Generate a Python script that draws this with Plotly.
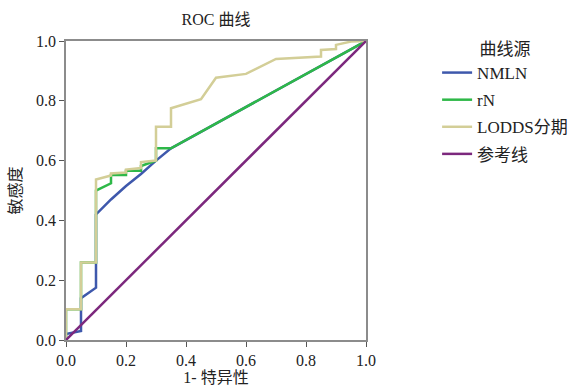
import plotly.graph_objects as go

# NMLN curve
nmln_x = [0, 0, 0.05, 0.05, 0.1, 0.1, 0.15, 0.2, 0.25, 0.3, 0.35, 1]
nmln_y = [0, 0.02, 0.03, 0.14, 0.175, 0.42, 0.47, 0.515, 0.555, 0.6, 0.641, 1]

# rN curve
rn_x = [0, 0, 0.05, 0.05, 0.1, 0.1, 0.15, 0.15, 0.2, 0.2, 0.25, 0.25, 0.3, 0.3, 0.35, 1]
rn_y = [0, 0.103, 0.103, 0.259, 0.259, 0.5, 0.524, 0.552, 0.552, 0.566, 0.566, 0.582, 0.6, 0.641, 0.641, 1]

# LODDS curve
lodds_x = [0, 0, 0.05, 0.05, 0.1, 0.1, 0.15, 0.15, 0.2, 0.2, 0.25, 0.25, 0.3, 0.3, 0.35, 0.35,
           0.45, 0.5, 0.6, 0.7, 0.85, 0.85, 0.9, 0.9, 0.95, 1]
lodds_y = [0, 0.103, 0.103, 0.259, 0.259, 0.537, 0.55, 0.557, 0.56, 0.57, 0.575, 0.595, 0.6, 0.713, 0.713, 0.775,
           0.805, 0.877, 0.89, 0.94, 0.948, 0.97, 0.973, 0.987, 0.998, 1]

# reference line
ref_x = [0, 1]
ref_y = [0, 1]

tick_vals = [0.0, 0.2, 0.4, 0.6, 0.8, 1.0]
tick_text = ["0.0", "0.2", "0.4", "0.6", "0.8", "1.0"]

FONT = "Liberation Serif, Noto Sans CJK SC, serif"

fig = go.Figure()
series = [
    ("NMLN", nmln_x, nmln_y, "#3E58AC"),
    ("rN", rn_x, rn_y, "#2EB848"),
    ("LODDS分期", lodds_x, lodds_y, "#D3CE97"),
    ("参考线", ref_x, ref_y, "#7C287D"),
]
for name, xs, ys, col in series:
    fig.add_trace(go.Scatter(x=xs, y=ys, mode="lines", name=name, legendgroup=name,
                             line=dict(color=col, width=2.5), cliponaxis=False))

axis_common = dict(range=[0, 1], tickvals=tick_vals, ticktext=tick_text, automargin=False,
                   showgrid=False, zeroline=False, showline=True, mirror=True,
                   linecolor="#8c8c8c", linewidth=1.5, ticks="outside", ticklen=5,
                   tickcolor="#555555", tickfont=dict(size=16, color="#222", family=FONT))

fig.update_layout(
    width=576, height=390,
    margin=dict(l=66, r=210, t=41, b=50, autoexpand=False),
    paper_bgcolor="white", plot_bgcolor="white",
    font=dict(family=FONT, color="#222"),
    title=dict(text="ROC 曲线", x=216/576, xanchor="center", y=1 - 19/390, yanchor="middle",
               font=dict(size=16, family=FONT, color="#222")),
    xaxis=dict(**axis_common, title=dict(text="1- 特异性", font=dict(size=16, family=FONT), standoff=2)),
    yaxis=dict(**axis_common, title=dict(text="敏感度", font=dict(size=16, family=FONT), standoff=10)),
    legend=dict(x=1.237, xanchor="left", y=1.027, yanchor="top",
                title=dict(text="曲线源", side="top center", font=dict(size=17, family=FONT)),
                font=dict(size=17, family=FONT, color="#222"), tracegroupgap=2,
                itemwidth=30, bgcolor="rgba(0,0,0,0)"),
    showlegend=True,
)

fig.write_html("out.html", config={"displayModeBar": False},
               post_script="document.body.style.margin='0px';")
